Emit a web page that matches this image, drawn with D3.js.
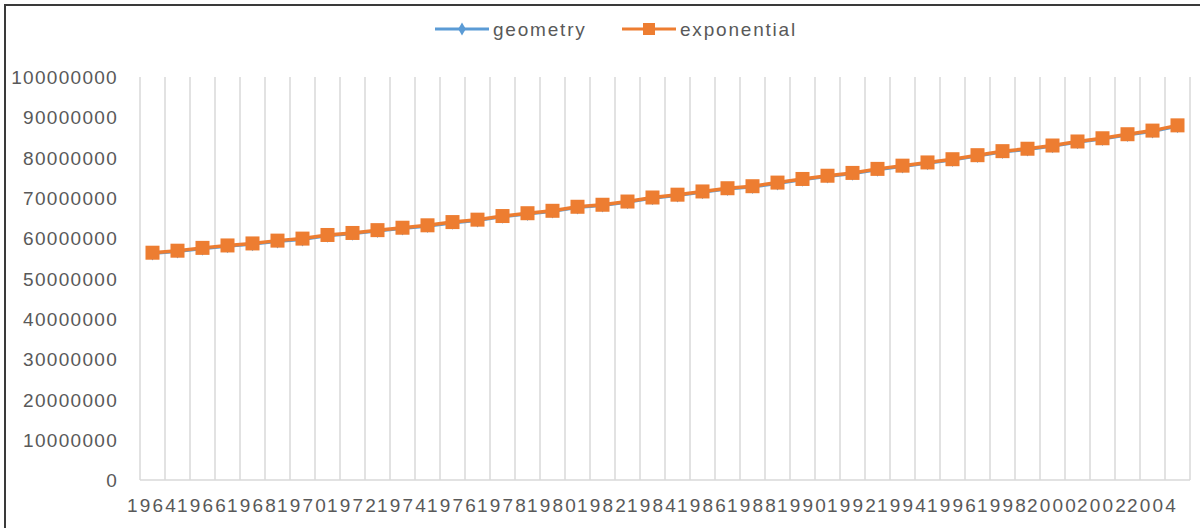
<!DOCTYPE html>
<html>
<head>
<meta charset="utf-8">
<script src="https://cdn.jsdelivr.net/npm/d3@7/dist/d3.min.js"></script>
<style>
  html, body { margin: 0; padding: 0; background: #ffffff; }
  svg { display: block; }
  text { font-family: "Liberation Sans", Arial, sans-serif; fill: #595959; }
</style>
</head>
<body>
<svg id="chart" width="1200" height="528"></svg>
<script>
// Years on the category axis
const years = [1964, 1965, 1966, 1967, 1968, 1969, 1970, 1971, 1972, 1973,
               1974, 1975, 1976, 1977, 1978, 1979, 1980, 1981, 1982, 1983,
               1984, 1985, 1986, 1987, 1988, 1989, 1990, 1991, 1992, 1993,
               1994, 1995, 1996, 1997, 1998, 1999, 2000, 2001, 2002, 2003,
               2004, 2005];

// Population estimates per year
const geometry = [56100000, 56600000, 57300000, 57900000, 58400000, 59100000, 59600000, 60500000, 61000000, 61700000,
                  62300000, 62900000, 63700000, 64300000, 65200000, 65900000, 66500000, 67500000, 68000000, 68800000,
                  69800000, 70500000, 71300000, 72100000, 72600000, 73500000, 74400000, 75200000, 75900000, 76900000,
                  77700000, 78500000, 79300000, 80300000, 81300000, 81900000, 82700000, 83700000, 84500000, 85500000,
                  86400000, 87700000];
const exponential = [56400000, 56900000, 57600000, 58200000, 58700000, 59400000, 59900000, 60800000, 61300000, 62000000,
                     62600000, 63200000, 64000000, 64600000, 65500000, 66200000, 66800000, 67800000, 68300000, 69100000,
                     70100000, 70800000, 71600000, 72400000, 72900000, 73800000, 74700000, 75500000, 76200000, 77200000,
                     78000000, 78800000, 79600000, 80600000, 81600000, 82200000, 83000000, 84000000, 84800000, 85800000,
                     86700000, 88000000];

// Value-axis ticks and labelled years
const yTicks = [0, 10000000, 20000000, 30000000, 40000000, 50000000, 60000000, 70000000, 80000000, 90000000, 100000000];
const xTickYears = [1964, 1966, 1968, 1970, 1972, 1974, 1976, 1978, 1980, 1982, 1984, 1986,
                    1988, 1990, 1992, 1994, 1996, 1998, 2000, 2002, 2004];

const series = [
  { name: "geometry", values: geometry, color: "#5B9BD5", marker: "diamond", width: 2.25 },
  { name: "exponential", values: exponential, color: "#ED7D31", marker: "square", width: 3.5 }
];

const svg = d3.select("#chart");
const plot = { left: 140, right: 1190, top: 77, bottom: 480 };

// Outer frame
svg.append("rect")
  .attr("x", 5).attr("y", 5)
  .attr("width", 1300).attr("height", 600)
  .attr("fill", "none")
  .attr("stroke", "#3a3a3a")
  .attr("stroke-width", 2);

const x = d3.scaleBand().domain(years).range([plot.left, plot.right]).padding(0);
const y = d3.scaleLinear().domain([0, 100000000]).range([plot.bottom, plot.top]);

// Vertical grid lines at category boundaries
const bounds = years.map(d => x(d)).concat([x(years[years.length - 1]) + x.bandwidth()]);
svg.append("g").selectAll("line")
  .data(bounds)
  .join("line")
  .attr("x1", d => d).attr("x2", d => d)
  .attr("y1", plot.top).attr("y2", plot.bottom)
  .attr("stroke", "#d9d9d9")
  .attr("stroke-width", 1.5);

// Category axis line
svg.append("line")
  .attr("x1", plot.left).attr("x2", plot.right)
  .attr("y1", plot.bottom).attr("y2", plot.bottom)
  .attr("stroke", "#d9d9d9")
  .attr("stroke-width", 1.5);

// Value axis labels
const yAxis = d3.axisLeft(y).tickValues(yTicks).tickFormat(d3.format("d")).tickSize(0).tickPadding(0);
const yg = svg.append("g").attr("transform", "translate(118,0)").call(yAxis);
yg.select(".domain").remove();
yg.selectAll("text")
  .attr("font-family", "Liberation Sans, Arial, sans-serif")
  .attr("font-size", 19)
  .attr("letter-spacing", 1.3)
  .attr("fill", "#595959")
  .attr("dy", "0.35em");

// Category axis labels (every other year)
const xAxis = d3.axisBottom(x).tickValues(xTickYears).tickSize(0).tickPadding(0);
const xg = svg.append("g").attr("transform", `translate(0,${plot.bottom})`).call(xAxis);
xg.select(".domain").remove();
xg.selectAll("text")
  .attr("font-family", "Liberation Sans, Arial, sans-serif")
  .attr("font-size", 19)
  .attr("letter-spacing", 2.2)
  .attr("fill", "#595959")
  .attr("y", 25)
  .attr("dy", "0.35em");

const cx = d => x(d) + x.bandwidth() / 2;
const line = d3.line().x((d, i) => cx(years[i])).y(d => y(d));

const diamond = d3.symbol().type(d3.symbolDiamond).size(50);

series.forEach(s => {
  const g = svg.append("g");
  g.append("path")
    .datum(s.values)
    .attr("d", line)
    .attr("fill", "none")
    .attr("stroke", s.color)
    .attr("stroke-width", s.width);
  if (s.marker === "square") {
    g.selectAll("rect")
      .data(s.values)
      .join("rect")
      .attr("x", (d, i) => cx(years[i]) - 7)
      .attr("y", d => y(d) - 7)
      .attr("width", 14).attr("height", 14)
      .attr("fill", s.color);
  } else {
    g.selectAll("path.m")
      .data(s.values)
      .join("path")
      .attr("class", "m")
      .attr("d", diamond)
      .attr("transform", (d, i) => `translate(${cx(years[i])},${y(d)})`)
      .attr("fill", s.color);
  }
});

// Legend
const legendItems = [
  { s: series[0], x0: 435, x1: 489, tx: 493 },
  { s: series[1], x0: 622, x1: 676, tx: 680 }
];
const lg = svg.append("g");
legendItems.forEach(it => {
  const ly = 29;
  lg.append("line")
    .attr("x1", it.x0).attr("x2", it.x1)
    .attr("y1", ly).attr("y2", ly)
    .attr("stroke", it.s.color).attr("stroke-width", 3);
  const mx = (it.x0 + it.x1) / 2;
  if (it.s.marker === "square") {
    lg.append("rect").attr("x", mx - 6).attr("y", ly - 6)
      .attr("width", 12).attr("height", 12).attr("fill", it.s.color);
  } else {
    lg.append("path").attr("d", diamond)
      .attr("transform", `translate(${mx},${ly})`)
      .attr("fill", it.s.color);
  }
  lg.append("text")
    .attr("x", it.tx).attr("y", ly)
    .attr("dy", "0.35em")
    .attr("font-size", 19)
    .attr("letter-spacing", 1.8)
    .text(it.s.name);
});
</script>
</body>
</html>
